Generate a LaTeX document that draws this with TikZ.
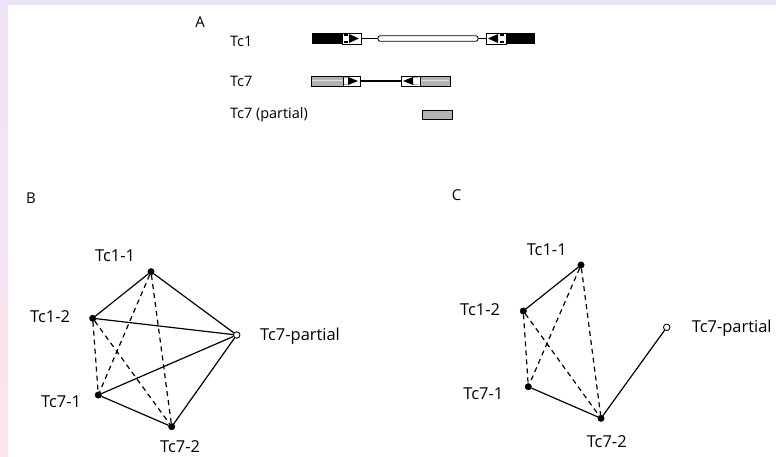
\documentclass[tikz,border=0pt]{standalone}
\usepackage{fontspec}
\setmainfont{Open Sans}
\begin{document}
\begin{tikzpicture}[x=1bp,y=-1bp,
  lbl/.style={font=\fontsize{16.5}{18}\selectfont,inner sep=0pt},
  lblA/.style={font=\fontsize{14.5}{16}\selectfont,inner sep=0pt},
  panel/.style={font=\fontsize{15}{17}\selectfont,inner sep=0pt},
  dot/.style={circle,fill=black,draw=black,inner sep=0pt,minimum size=6.5bp},
  odot/.style={circle,fill=white,draw=black,line width=0.9bp,inner sep=0pt,minimum size=6.5bp},
  link/.style={line width=1.2bp},
  weak/.style={line width=1.2bp,dash pattern=on 5bp off 4bp},
  graybar/.style={fill=gray!60,draw=black,line width=0.8bp},
  tebox/.style={fill=white,draw=black,line width=0.8bp}]
\definecolor{edgetop}{HTML}{ECE4F6}
\definecolor{edgebot}{HTML}{FCE4EC}
% page frame with tinted edges
\shade[top color=edgetop,bottom color=edgebot] (0,0) rectangle (776,457);
\fill[white] (8,5) rectangle (776,457);
\useasboundingbox (0,0) rectangle (776,457);

% ---------- panel A : gene structures ----------
\node[panel] (pA) at (200,22) {A};
\node[lblA,anchor=west] (lTc1) at (230,41) {Tc1};
\node[lblA,anchor=west] (lTc7) at (230,81) {Tc7};
\node[lblA,anchor=west] (lTc7p) at (230,115) {Tc7 (partial)};

% Tc1
\fill[black] (312,33) rectangle (342,44);
\draw[tebox] (342,33) rectangle (361,44);
\fill[black] (344,33.6) rectangle (348,35.6);
\fill[black] (344,41.4) rectangle (348,43.4);
\fill[black] (349,34) -- (359,38.5) -- (349,43) -- cycle;
\draw[line width=1.2bp] (361,38.5) -- (378,38.5);
\draw[fill=white,draw=black,line width=0.8bp,rounded corners=2bp] (378,35.8) rectangle (478,41.2);
\draw[line width=1.2bp] (478,38.5) -- (486,38.5);
\draw[tebox] (486,33) rectangle (506,44);
\fill[black] (500,33.6) rectangle (504,35.6);
\fill[black] (500,41.4) rectangle (504,43.4);
\fill[black] (498,34) -- (488,38.5) -- (498,43) -- cycle;
\fill[black] (506,33) rectangle (535,44);

% Tc7
\draw[graybar] (311,76) rectangle (343,86);
\draw[gray!25,line width=1bp] (312,81) -- (342,81);
\draw[tebox] (343,76) rectangle (360,86);
\fill[gray!70] (344,76.6) rectangle (348,78.4);
\fill[gray!70] (344,83.6) rectangle (348,85.4);
\fill[black] (348,77) -- (358,81) -- (348,85) -- cycle;
\draw[line width=1.2bp] (360,81) -- (401,81);
\draw[tebox] (401,76) rectangle (420,86);
\fill[gray!70] (413,76.6) rectangle (418,78.4);
\fill[gray!70] (413,83.6) rectangle (418,85.4);
\fill[black] (413,77) -- (403,81) -- (413,85) -- cycle;
\draw[graybar] (420,76) rectangle (450,86);
\draw[gray!25,line width=1bp] (421,81) -- (449,81);

% Tc7 (partial)
\draw[graybar] (422,110) rectangle (452,119);

% ---------- panel B ----------
\node[panel] (pB) at (31,198) {B};
\node[dot]  (b11) at (151,271.7) {};
\node[dot]  (b12) at (92.7,318.3) {};
\node[odot] (b7p) at (236.7,335) {};
\node[dot]  (b71) at (98.3,395) {};
\node[dot]  (b72) at (171.7,426.7) {};
\node[lbl] (lb11) at (115,256) {Tc1-1};
\node[lbl] (lb12) at (50,316.7) {Tc1-2};
\node[lbl,anchor=west] (lb7p) at (260,336.7) {Tc7-partial};
\node[lbl] (lb71) at (61,401.7) {Tc7-1};
\node[lbl] (lb72) at (180,446.5) {Tc7-2};
\draw[link] (b11) -- (b12);
\draw[link] (b11) -- (b7p);
\draw[link] (b12) -- (b7p);
\draw[link] (b71) -- (b7p);
\draw[link] (b71) -- (b72);
\draw[link] (b72) -- (b7p);
\draw[weak] (b11) -- (b71);
\draw[weak] (b11) -- (b72);
\draw[weak] (b12) -- (b71);
\draw[weak] (b12) -- (b72);

% ---------- panel C ----------
\node[panel] (pC) at (456.7,195) {C};
\node[dot]  (c11) at (581,265) {};
\node[dot]  (c12) at (523.3,311) {};
\node[odot] (c7p) at (666.7,327.3) {};
\node[dot]  (c71) at (528.3,386.7) {};
\node[dot]  (c72) at (601,418.3) {};
\node[lbl] (lc11) at (546.7,250) {Tc1-1};
\node[lbl] (lc12) at (480,309.3) {Tc1-2};
\node[lbl,anchor=west] (lc7p) at (691.7,328) {Tc7-partial};
\node[lbl] (lc71) at (483.3,393.3) {Tc7-1};
\node[lbl] (lc72) at (606.7,441.7) {Tc7-2};
\draw[link] (c11) -- (c12);
\draw[link] (c71) -- (c72);
\draw[link] (c72) -- (c7p);
\draw[weak] (c11) -- (c71);
\draw[weak] (c11) -- (c72);
\draw[weak] (c12) -- (c71);
\draw[weak] (c12) -- (c72);
\end{tikzpicture}
\end{document}
